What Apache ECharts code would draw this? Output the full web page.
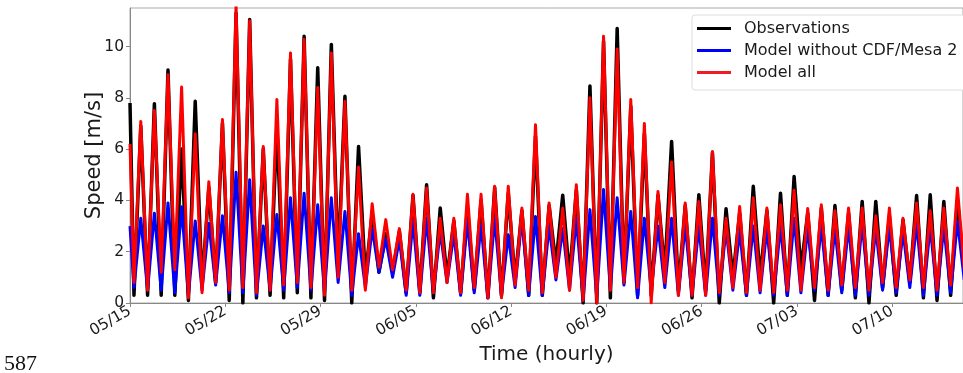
<!DOCTYPE html>
<html>
<head>
<meta charset="utf-8">
<script src="https://cdn.jsdelivr.net/npm/echarts@6/dist/echarts.min.js"></script>
<style>
html,body{margin:0;padding:0;background:#fff;}
#c{width:963px;height:373px;}
</style>
</head>
<body>
<div id="c"></div>
<script>
// x axis: days since 05/15 00:00, weekly tick labels
const TICK_LABELS = ['05/15','05/22','05/29','06/05','06/12','06/19','06/26','07/03','07/10'];
const X_MAX_DAYS = 61.2;
const PEAK_HOUR = 19;
const LOW_HOUR = 7;
const SERIES_NAMES = ['Observations','Model without CDF/Mesa 2','Model all'];

// value at 05/15 00:00
const START_OBS = 7.8, START_NOCDF = 3.0, START_ALL = 6.2;

// daily afternoon peaks (m/s), one per day from 05/15
const PEAK_OBS = [6.9,7.77,9.08,6.0,7.86,4.5,7.0,11.3,11.05,6.0,6.9,9.5,10.4,9.17,10.08,8.06,6.1,3.5,2.7,2.8,
  4.2,4.61,3.7,3.2,3.7,4.0,4.5,4.28,3.6,6.5,3.8,4.2,4.4,8.46,10.2,10.7,7.67,6.6,4.2,6.3,
  3.8,4.22,5.85,3.67,3.5,4.55,3.6,4.28,4.93,3.5,3.7,3.8,3.5,3.96,3.96,3.4,3.24,4.19,4.22,3.96,4.0];
const PEAK_NOCDF = [3.3,3.5,3.9,3.75,3.2,3.1,3.4,5.1,4.8,3.0,3.45,4.1,4.28,3.83,4.1,3.57,2.7,2.9,2.5,2.5,
  3.2,3.3,2.8,2.7,3.2,3.05,3.3,2.66,3.3,3.37,3.0,2.9,3.3,3.64,4.42,4.1,3.57,3.3,3.0,3.3,
  3.05,3.0,3.3,2.9,2.8,3.0,2.9,3.0,3.3,2.9,3.0,2.9,3.0,3.1,2.9,3.0,2.8,3.1,3.0,3.0,3.2];
const PEAK_ALL = [7.08,7.5,8.9,8.42,6.6,4.73,7.15,11.6,11.0,6.1,7.93,9.75,10.27,8.4,9.75,7.86,5.3,3.87,3.25,2.9,
  4.24,4.48,3.3,3.3,4.24,4.24,4.55,4.55,3.7,6.95,3.9,3.7,4.61,8.0,10.4,9.9,7.93,7.0,4.35,5.5,
  3.9,3.96,5.91,3.3,3.76,4.1,3.7,3.83,4.4,3.68,3.83,3.6,3.7,3.7,3.4,3.7,3.3,3.9,3.6,3.7,4.48];

// morning minima (m/s), one per day from 05/15 (last one is 07/15)
const LOW_OBS = [0.3,0.3,0.3,0.3,0.1,0.7,0.8,0.1,0.0,0.2,0.3,0.2,0.4,0.2,0.1,1.5,0.0,1.0,1.2,1.2,
  0.4,0.4,0.2,1.0,0.4,0.5,0.2,0.3,0.9,0.3,0.3,1.5,1.0,0.0,0.0,0.2,0.8,0.3,0.3,1.2,
  0.5,0.2,0.5,0.0,1.0,0.3,1.0,0.0,0.3,1.3,0.1,0.3,0.5,0.2,0.0,0.6,0.3,0.8,0.2,0.1,0.3,1.2];
const LOW_NOCDF = [0.6,0.5,0.5,0.4,0.3,0.5,0.7,0.4,0.4,0.3,0.5,0.5,0.6,0.5,0.4,0.8,0.3,0.6,1.2,1.0,
  0.3,0.3,0.4,0.8,0.3,0.4,0.2,0.3,0.6,0.3,0.3,0.9,0.5,0.1,0.2,0.5,0.7,0.2,0.5,0.6,
  0.3,0.3,0.3,0.3,0.5,0.3,0.4,0.3,0.3,0.4,0.5,0.3,0.4,0.3,0.3,0.5,0.4,0.6,0.3,0.3,0.4,0.9];
const LOW_ALL = [0.8,0.5,1.2,1.3,0.2,0.4,0.8,0.5,0.6,0.4,0.5,0.7,0.8,0.6,0.3,1.0,0.5,0.5,1.4,1.3,
  0.5,0.4,0.4,0.8,0.4,0.6,0.2,0.2,0.7,0.5,0.4,1.0,0.5,0.1,0.0,0.5,0.8,0.6,0.0,0.8,
  0.3,0.3,0.3,0.4,0.6,0.4,0.5,0.4,0.5,0.5,0.6,0.5,0.7,0.6,0.5,0.8,0.6,0.9,0.6,0.5,0.7,1.3];

function build(start, peaks, lows){
  const out = [[0, start]];
  for (let d = 0; d < peaks.length; d++){
    out.push([d + LOW_HOUR/24, lows[d]]);
    out.push([d + PEAK_HOUR/24, peaks[d]]);
  }
  out.push([peaks.length + LOW_HOUR/24, lows[peaks.length]]);
  return out;
}

const chart = echarts.init(document.getElementById('c'), null, {renderer:'canvas'});
const FONT = 'DejaVu Sans';
chart.setOption({
  animation:false,
  backgroundColor:'#fff',
  textStyle:{fontFamily:FONT},
  grid:{left:130, top:8, right:-3, bottom:70, show:true, borderColor:'#aaa', borderWidth:1},
  legend:{
    orient:'vertical', left:692, top:15,
    data:SERIES_NAMES,
    icon:'rect', itemWidth:34, itemHeight:3, itemGap:3,
    padding:[4,12,8,5],
    backgroundColor:'#fff', borderColor:'#ddd', borderWidth:1, borderRadius:3,
    textStyle:{fontFamily:FONT, fontSize:16, color:'#1a1a1a', padding:[0,0,0,8], lineHeight:19}
  },
  xAxis:{
    type:'value', min:0, max:X_MAX_DAYS, interval:7,
    name:'Time (hourly)', nameLocation:'middle', nameGap:42, nameMoveOverlap:false,
    nameTextStyle:{fontFamily:FONT, fontSize:20, color:'#1a1a1a'},
    axisLine:{lineStyle:{color:'#888'}},
    axisTick:{length:4, lineStyle:{color:'#888'}},
    splitLine:{show:false},
    axisLabel:{
      rotate:30, fontSize:15.5, color:'#1a1a1a', fontFamily:FONT, margin:7,
      showMaxLabel:false,
      formatter:v => { const i = Math.round(v/7); return (Math.abs(v - i*7) < 1e-6 && TICK_LABELS[i]) ? TICK_LABELS[i] : ''; }
    }
  },
  yAxis:{
    type:'value', min:0, max:11.5, interval:2,
    name:'Speed [m/s]', nameLocation:'middle', nameGap:25, nameMoveOverlap:false,
    nameTextStyle:{fontFamily:FONT, fontSize:21, color:'#1a1a1a'},
    axisLine:{show:true, lineStyle:{color:'#888'}},
    axisTick:{show:true, length:4, lineStyle:{color:'#888'}},
    splitLine:{show:false},
    axisLabel:{fontSize:15.5, color:'#1a1a1a', fontFamily:FONT, margin:6, showMaxLabel:false,
      formatter:v => (v % 2 === 0 ? String(v) : '')}
  },
  series:[
    {name:SERIES_NAMES[0], type:'line', symbol:'none', data:build(START_OBS, PEAK_OBS, LOW_OBS),
     lineStyle:{color:'#000', width:3.5, join:'round'}, itemStyle:{color:'#000'}, z:2},
    {name:SERIES_NAMES[1], type:'line', symbol:'none', data:build(START_NOCDF, PEAK_NOCDF, LOW_NOCDF),
     lineStyle:{color:'#0000ff', width:3, join:'round'}, itemStyle:{color:'#0000ff'}, z:3},
    {name:SERIES_NAMES[2], type:'line', symbol:'none', data:build(START_ALL, PEAK_ALL, LOW_ALL),
     lineStyle:{color:'#ff0000', width:3, join:'round'}, itemStyle:{color:'#ee1c24'}, z:4}
  ],
  graphic:[
    {type:'text', left:4, top:353, style:{text:'587', font:'22px "Liberation Serif", "DejaVu Serif", serif', fill:'#111'}}
  ]
});
</script>
</body>
</html>
